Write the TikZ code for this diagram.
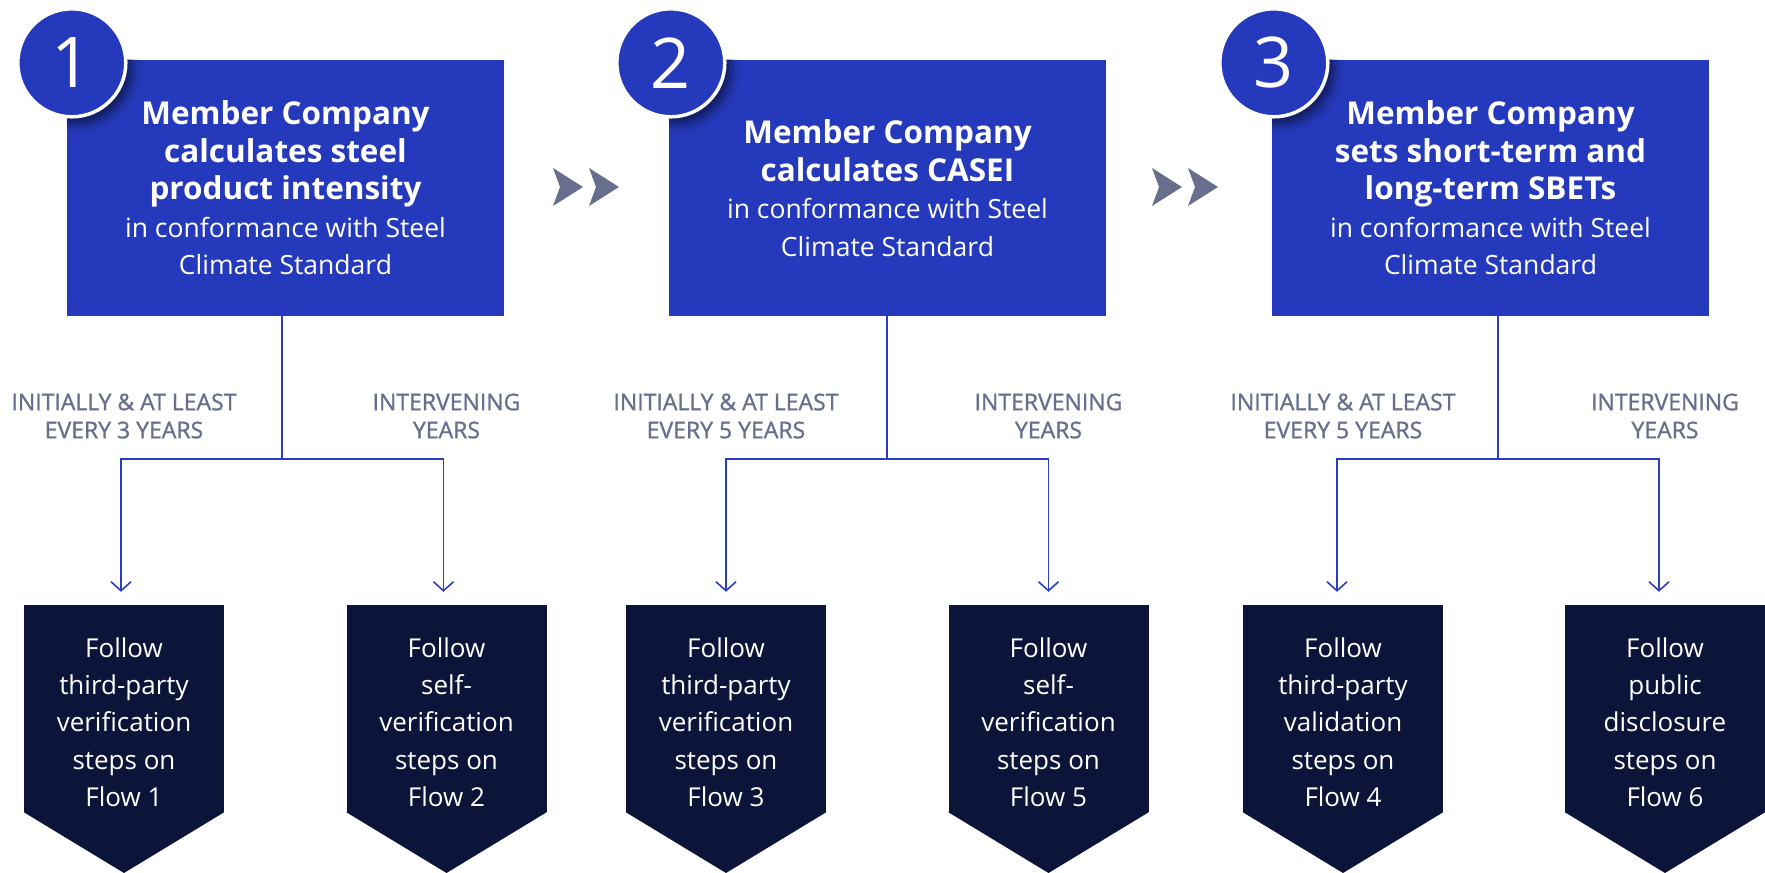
\documentclass[tikz,border=0pt]{standalone}
\usepackage{fontspec}
\setmainfont{Open Sans}
\newfontfamily\periodfont[FakeBold=1.1]{Open Sans}
\usetikzlibrary{arrows.meta}
\usetikzlibrary{calc}
\usetikzlibrary{shadows.blur}
\definecolor{stepblue}{HTML}{2439BB}
\definecolor{flownavy}{HTML}{0C1539}
\definecolor{periodgray}{HTML}{686F8E}
\definecolor{linkblue}{HTML}{2B3EC2}
\newcommand{\hd}[1]{{\fontsize{31.5}{37.5}\selectfont\bfseries #1}}

\begin{document}
\begin{tikzpicture}[x=1pt,y=-1pt,
    stepbox/.style={fill=stepblue,minimum width=437pt,minimum height=256pt,inner sep=0pt,
      text=white,align=center,font=\fontsize{26.5}{37.5}\selectfont},
    stepnum/.style={circle,fill=stepblue,draw=white,line width=3.5pt,minimum size=108pt,
      inner sep=0pt,text=white,font=\fontsize{70}{70}\selectfont},
    numshadow/.style={circle,fill=stepblue,minimum size=110pt,inner sep=0pt,
      blur shadow={shadow xshift=5pt,shadow yshift=-6pt,shadow blur radius=9pt,shadow opacity=55}},
    flowbody/.style={fill=flownavy,minimum width=200pt,minimum height=207pt,inner sep=0pt},
    flowtext/.style={text=white,align=center,font=\fontsize{26}{37.3}\selectfont},
    period/.style={text=periodgray,align=center,font=\periodfont\fontsize{23}{28}\selectfont},
    trunk/.style={draw=linkblue,line width=1.6pt},
    branch/.style={trunk,-{Straight Barb[length=9pt,width=20pt]},shorten >=13pt}]
  \useasboundingbox (0,0) rectangle (1765,873);
  \fill[white] (0,0) rectangle (1765,873);

  % the three steps
  \node[stepbox] (b1) at (285.5,188) {\hd{Member Company}\\\hd{calculates steel}\\\hd{product intensity}\\in conformance with Steel\\Climate Standard};
  \node[stepbox] (b2) at (887.5,188) {\hd{Member Company}\\\hd{calculates CASEI}\\in conformance with Steel\\Climate Standard};
  \node[stepbox] (b3) at (1490.5,188) {\hd{Member Company}\\\hd{sets short-term and}\\\hd{long-term SBETs}\\in conformance with Steel\\Climate Standard};
  \coordinate (c1) at ($(b1.north west)+(5,3)$);
  \coordinate (c2) at ($(b2.north west)+(2,3)$);
  \coordinate (c3) at ($(b3.north west)+(2,3)$);
  \foreach \i in {1,2,3}{
    \begin{scope}
      \clip (b\i.north west) rectangle (b\i.south east);
      \node[numshadow] at (c\i) {};
    \end{scope}
  }
  \node[stepnum] (n1) at (c1) {1};
  \node[stepnum] (n2) at (c2) {2};
  \node[stepnum] (n3) at (c3) {3};

  % grey chevrons between the steps
  \foreach \x in {553,589,1152,1188}
    \fill[periodgray] (\x,168) -- (\x+30,187) -- (\x,206) -- (\x+7,187) -- cycle;

  % flows
  \foreach \i/\x/\txt in {1/124/{Follow\\third-party\\verification\\steps on\\Flow 1},
      2/446.5/{Follow\\self-\\verification\\steps on\\Flow 2},
      3/726/{Follow\\third-party\\verification\\steps on\\Flow 3},
      4/1048.5/{Follow\\self-\\verification\\steps on\\Flow 5},
      5/1343/{Follow\\third-party\\validation\\steps on\\Flow 4},
      6/1665/{Follow\\public\\disclosure\\steps on\\Flow 6}}{
    \node[flowbody] (f\i) at (\x,708.5) {};
    \fill[flownavy] (f\i.south west) -- (f\i.south east) -- (\x,873) -- cycle;
    \node[flowtext] (t\i) at (\x,722) {\txt};
  }

  % how often
  \node[period] (p1) at (124,416) {INITIALLY \& AT LEAST\\EVERY 3 YEARS};
  \node[period] (p2) at (446.5,416) {INTERVENING\\YEARS};
  \node[period] (p3) at (726,416) {INITIALLY \& AT LEAST\\EVERY 5 YEARS};
  \node[period] (p4) at (1048.5,416) {INTERVENING\\YEARS};
  \node[period] (p5) at (1343,416) {INITIALLY \& AT LEAST\\EVERY 5 YEARS};
  \node[period] (p6) at (1665,416) {INTERVENING\\YEARS};

  % connectors
  \coordinate (j1) at (282,459);
  \coordinate (j2) at (887,459);
  \coordinate (j3) at (1498,459);
  \draw[trunk] (b1.south -| j1) -- (j1);
  \draw[trunk] (b2.south -| j2) -- (j2);
  \draw[trunk] (b3.south -| j3) -- (j3);
  \draw[branch] (j1) -| ([xshift=-3pt]f1.north);
  \draw[branch] (j1) -| ([xshift=-3pt]f2.north);
  \draw[branch] (j2) -| (f3.north);
  \draw[branch] (j2) -| (f4.north);
  \draw[branch] (j3) -| ([xshift=-6pt]f5.north);
  \draw[branch] (j3) -| ([xshift=-6pt]f6.north);
\end{tikzpicture}
\end{document}
